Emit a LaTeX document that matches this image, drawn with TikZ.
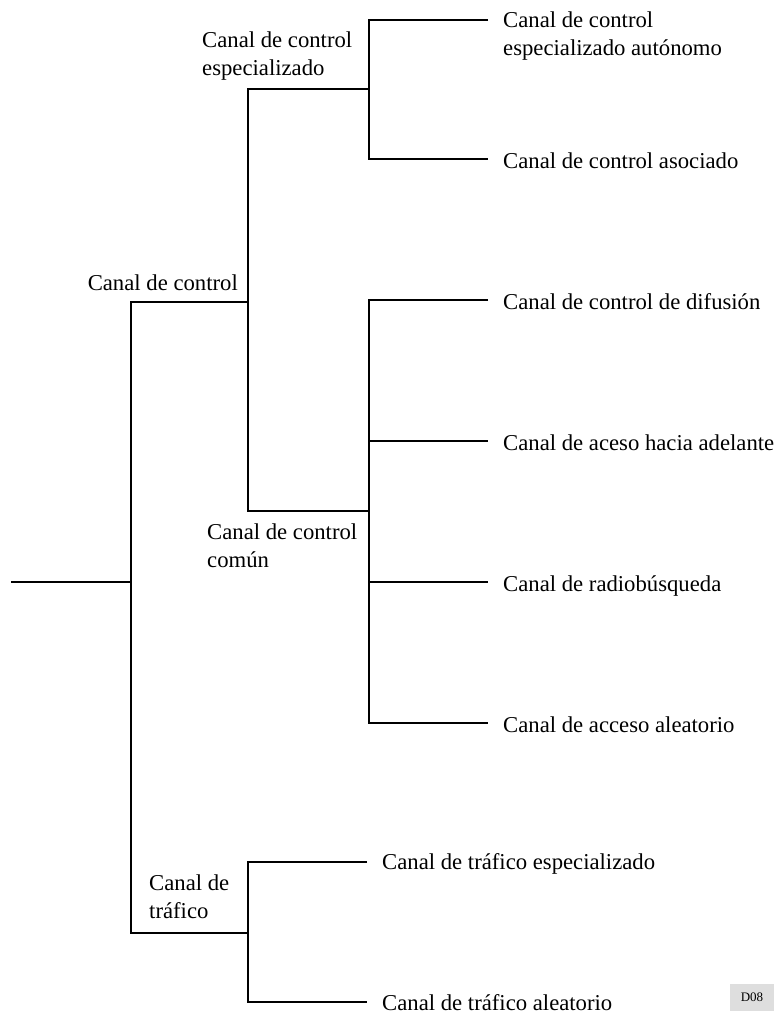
\documentclass[tikz,border=0pt]{standalone}
\usepackage{fontspec}
\setmainfont{Liberation Serif}
\begin{document}
\begin{tikzpicture}[x=1pt,y=-1pt,
  branch/.style={line width=1.9pt, line join=miter},
  lbl/.style={inner sep=0pt, anchor=base west, align=left,
    font=\rmfamily\fontsize{22.7pt}{28pt}\selectfont},
  lblr/.style={lbl, anchor=base east, align=right},
  tag/.style={fill=black!13, inner sep=0pt, minimum width=44pt,
    minimum height=27pt, font=\rmfamily\fontsize{13pt}{15pt}\selectfont}]
\useasboundingbox (0,0) rectangle (780,1014);

% junction points of the tree
\coordinate (root)  at (11,582);
\coordinate (trunk) at (131,582);
\coordinate (ctlA)  at (131,302);
\coordinate (ctlB)  at (248,302);
\coordinate (trfA)  at (131,933);
\coordinate (trfB)  at (248,933);
\coordinate (dedA)  at (248,89);
\coordinate (dedB)  at (369,89);
\coordinate (comA)  at (248,511);
\coordinate (comB)  at (369,511);
\coordinate (d1a)   at (369,20);
\coordinate (d1b)   at (488,20);
\coordinate (d2a)   at (369,159);
\coordinate (d2b)   at (488,159);
\coordinate (m1a)   at (369,300);
\coordinate (m1b)   at (488,300);
\coordinate (m2a)   at (369,441);
\coordinate (m2b)   at (488,441);
\coordinate (m3a)   at (369,582);
\coordinate (m3b)   at (488,582);
\coordinate (m4a)   at (369,723);
\coordinate (m4b)   at (488,723);
\coordinate (t1a)   at (248,862);
\coordinate (t1b)   at (367,862);
\coordinate (t2a)   at (248,1002);
\coordinate (t2b)   at (367,1002);

% branches
\draw[branch] (root) -- (trunk);
\draw[branch] (ctlB) -- (ctlA) -- (trfA) -- (trfB);
\draw[branch] (dedB) -- (dedA) -- (comA) -- (comB);
\draw[branch] (d1b) -- (d1a) -- (d2a) -- (d2b);
\draw[branch] (m1b) -- (m1a) -- (m4a) -- (m4b);
\draw[branch] (m2a) -- (m2b);
\draw[branch] (m3a) -- (m3b);
\draw[branch] (t1b) -- (t1a) -- (t2a) -- (t2b);

% labels of the inner branches (two-line labels are placed by their last baseline)
\node[lblr] (ctl) at (238,290) {Canal de control};
\node[lbl] (ded) at (202,76) {Canal de control\\especializado};
\node[lbl] (com) at (207,567) {Canal de control\\común};
\node[lbl] (trf) at (149,918) {Canal de\\tráfico};

% labels of the leaves
\node[lbl] (aut) at (503,56) {Canal de control\\especializado autónomo};
\node[lbl] (aso) at (503,168) {Canal de control asociado};
\node[lbl] (dif) at (503,309) {Canal de control de difusión};
\node[lbl] (ade) at (503,450) {Canal de aceso hacia adelante};
\node[lbl] (rad) at (503,591) {Canal de radiobúsqueda};
\node[lbl] (ale) at (503,732) {Canal de acceso aleatorio};
\node[lbl] (tes) at (382,869) {Canal de tráfico especializado};
\node[lbl] (tal) at (382,1010) {Canal de tráfico aleatorio};

\node[tag] (code) at (752,997) {D08};
\end{tikzpicture}
\end{document}
